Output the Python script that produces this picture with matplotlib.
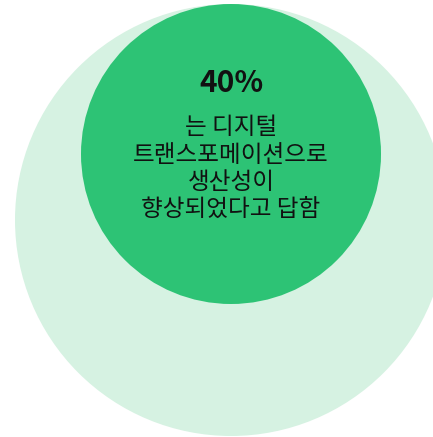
import matplotlib
matplotlib.use("Agg")
import matplotlib.pyplot as plt
from matplotlib.patches import Circle

# Values shown
share_pct = 40
caption_lines = ["는 디지털", "트랜스포메이션으로", "생산성이", "향상되었다고 답함"]

outer_color = "#D6F2E2"
inner_color = "#2DC375"
text_color = "#111111"

plt.rcParams["font.family"] = ["Noto Sans CJK KR", "DejaVu Sans"]

W, H = 433, 437
fig = plt.figure(figsize=(W / 100, H / 100), dpi=100)
ax = fig.add_axes([0, 0, 1, 1])
ax.set_xlim(0, W)
ax.set_ylim(H, 0)
ax.set_aspect("equal")
ax.axis("off")

# Background circle (total) and foreground circle (highlighted share)
ax.add_patch(Circle((231, 220), 216, facecolor=outer_color, edgecolor="none"))
ax.add_patch(Circle((231, 154), 150, facecolor=inner_color, edgecolor="none"))

ax.text(231, 83, f"{share_pct}%", ha="center", va="center",
        fontsize=21.5, fontweight="bold", color=text_color)

y0, dy = 128, 27.3
for i, line in enumerate(caption_lines):
    ax.text(231, y0 + i * dy, line, ha="center", va="center",
            fontsize=17, color=text_color)

fig.savefig("out.png", dpi=100)
